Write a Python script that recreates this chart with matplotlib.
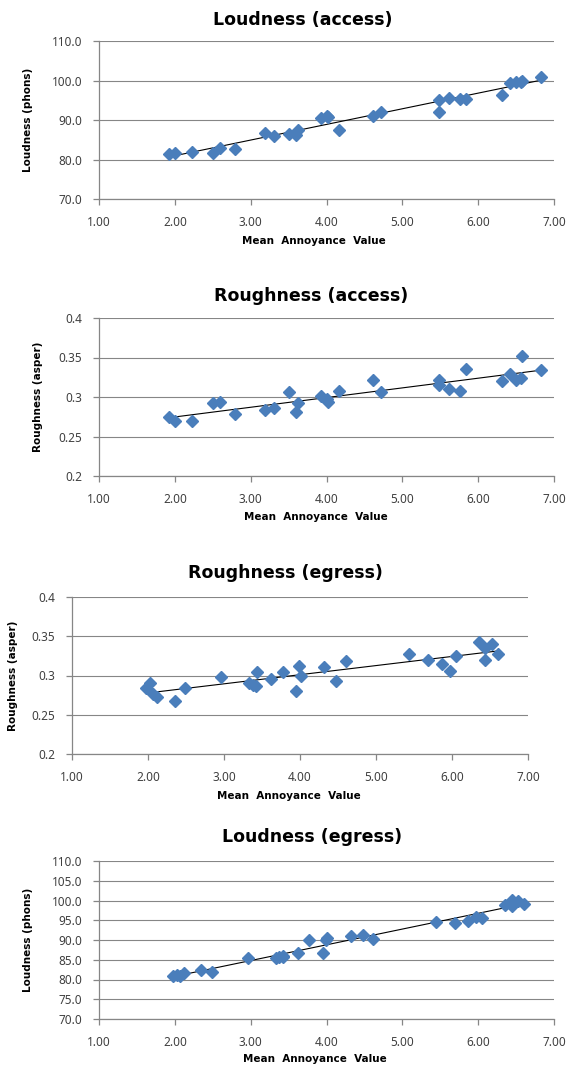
import numpy as np
import matplotlib
matplotlib.use('Agg')
import matplotlib.pyplot as plt
from matplotlib.ticker import FormatStrFormatter, FuncFormatter

plt.rcParams['font.family'] = ['Noto Sans', 'DejaVu Sans']

# mean annoyance values (x) shared by the two "access" panels
access_mav = [1.92, 2.00, 2.23, 2.50, 2.59, 2.79, 3.19, 3.31, 3.51, 3.60, 3.62, 3.93, 4.00, 4.02,
              4.16, 4.61, 4.72, 5.48, 5.49, 5.61, 5.76, 5.84, 6.32, 6.42, 6.50, 6.57, 6.58, 6.83]
access_loudness = [81.4, 81.7, 82.0, 81.7, 83.0, 82.7, 86.6, 86.0, 86.4, 86.2, 87.5, 90.5, 91.1, 90.7,
                   87.5, 90.9, 92.0, 92.0, 95.0, 95.5, 95.3, 95.3, 96.3, 99.4, 99.5, 99.6, 100.0, 100.8]
access_roughness = [0.275, 0.270, 0.270, 0.293, 0.294, 0.278, 0.284, 0.286, 0.306, 0.281, 0.292, 0.301, 0.297, 0.294,
                    0.308, 0.321, 0.306, 0.322, 0.315, 0.310, 0.308, 0.336, 0.320, 0.329, 0.322, 0.324, 0.352, 0.334]

# mean annoyance values (x) shared by the two "egress" panels
egress_mav = [1.98, 2.03, 2.07, 2.12, 2.35, 2.49, 2.96, 3.33, 3.38, 3.42, 3.43, 3.62, 3.77, 3.95, 3.99,
              4.01, 4.32, 4.48, 4.61, 5.44, 5.69, 5.87, 5.97, 6.05, 6.35, 6.44, 6.44, 6.53, 6.61]
egress_roughness = [0.284, 0.290, 0.277, 0.273, 0.268, 0.284, 0.298, 0.291, 0.288, 0.286, 0.305, 0.296, 0.305, 0.280, 0.312,
                    0.300, 0.311, 0.293, 0.319, 0.327, 0.320, 0.315, 0.306, 0.325, 0.343, 0.335, 0.320, 0.340, 0.328]
egress_loudness = [80.9, 81.1, 80.9, 81.6, 82.3, 82.0, 85.5, 85.4, 85.6, 85.8, 86.0, 86.6, 90.0, 86.8, 90.0,
                   90.4, 91.1, 91.3, 90.3, 94.5, 94.4, 94.9, 95.7, 95.5, 98.8, 100.1, 98.7, 99.9, 99.2]

x_ticks = [1.0, 2.0, 3.0, 4.0, 5.0, 6.0, 7.0]
loud_ticks_access = [70, 80, 90, 100, 110]
loud_ticks_egress = [70, 75, 80, 85, 90, 95, 100, 105, 110]
rough_ticks = [0.2, 0.25, 0.3, 0.35, 0.4]

W, H = 566, 1068
fig = plt.figure(figsize=(W / 100, H / 100), dpi=100)

blue = '#4A7EBB'
grid_c = '#868686'
txt_c = '#404040'
bold_font = ['DejaVu Sans']


def px_axes(left, right, top, bottom):
    return fig.add_axes([left / W, 1 - bottom / H, (right - left) / W, (bottom - top) / H])


def panel(ax, x, y, yticks, yfmt, title, title_x, title_y, ylabel, ylabel_x, xlabel_x, xlabel_y):
    ax.set_xlim(1, 7)
    ax.set_ylim(yticks[0], yticks[-1])
    ax.set_xticks(x_ticks)
    ax.set_yticks(yticks)
    ax.xaxis.set_major_formatter(FormatStrFormatter('%.2f'))
    ax.yaxis.set_major_formatter(yfmt)
    ax.grid(axis='y', color=grid_c, lw=0.8)
    ax.set_axisbelow(True)
    for s in ['top', 'right']:
        ax.spines[s].set_visible(False)
    for s in ['left', 'bottom']:
        ax.spines[s].set_color(grid_c)
        ax.spines[s].set_linewidth(0.9)
    ax.tick_params(axis='both', direction='out', length=4, width=0.9, color=grid_c,
                   labelsize=8.5, labelcolor=txt_c, pad=8)

    # linear trend line
    k, b = np.polyfit(x, y, 1)
    xs = np.array([min(x), max(x)])
    ax.plot(xs, k * xs + b, color='black', lw=0.8, zorder=3)
    ax.plot(x, y, 'D', color=blue, ms=6, mec=blue, zorder=4, clip_on=False)

    fig.text(title_x / W, 1 - title_y / H, title, ha='center', va='center',
             fontsize=12.5, fontweight='bold', color='black', family=bold_font)
    fig.text(xlabel_x / W, 1 - xlabel_y / H, 'Mean  Annoyance  Value', ha='center', va='center',
             fontsize=7.5, fontweight='bold', color='black', family=bold_font)
    cy = 1 - (ax.get_position().y0 + ax.get_position().height / 2)
    fig.text(ylabel_x / W, 1 - cy, ylabel, rotation=90, ha='center', va='center',
             fontsize=7.5, fontweight='bold', color='black', family=bold_font)


one_dec = FormatStrFormatter('%.1f')
general = FuncFormatter(lambda v, p: ('%g' % round(v, 3)))

ax1 = px_axes(99, 554, 41, 199)
panel(ax1, access_mav, access_loudness, loud_ticks_access, one_dec,
      'Loudness (access)', 303, 20, 'Loudness (phons)', 28, 314, 241)

ax2 = px_axes(99, 554, 318, 476)
panel(ax2, access_mav, access_roughness, rough_ticks, general,
      'Roughness (access)', 311, 296, 'Roughness (asper)', 38, 316, 517)

ax3 = px_axes(72, 528, 597, 754)
panel(ax3, egress_mav, egress_roughness, rough_ticks, general,
      'Roughness (egress)', 285, 573, 'Roughness (asper)', 13, 289, 796)

ax4 = px_axes(99, 554, 861, 1019)
panel(ax4, egress_mav, egress_loudness, loud_ticks_egress, one_dec,
      'Loudness (egress)', 312, 837, 'Loudness (phons)', 28, 315, 1059)

fig.savefig('out.png', dpi=100, facecolor='white')
